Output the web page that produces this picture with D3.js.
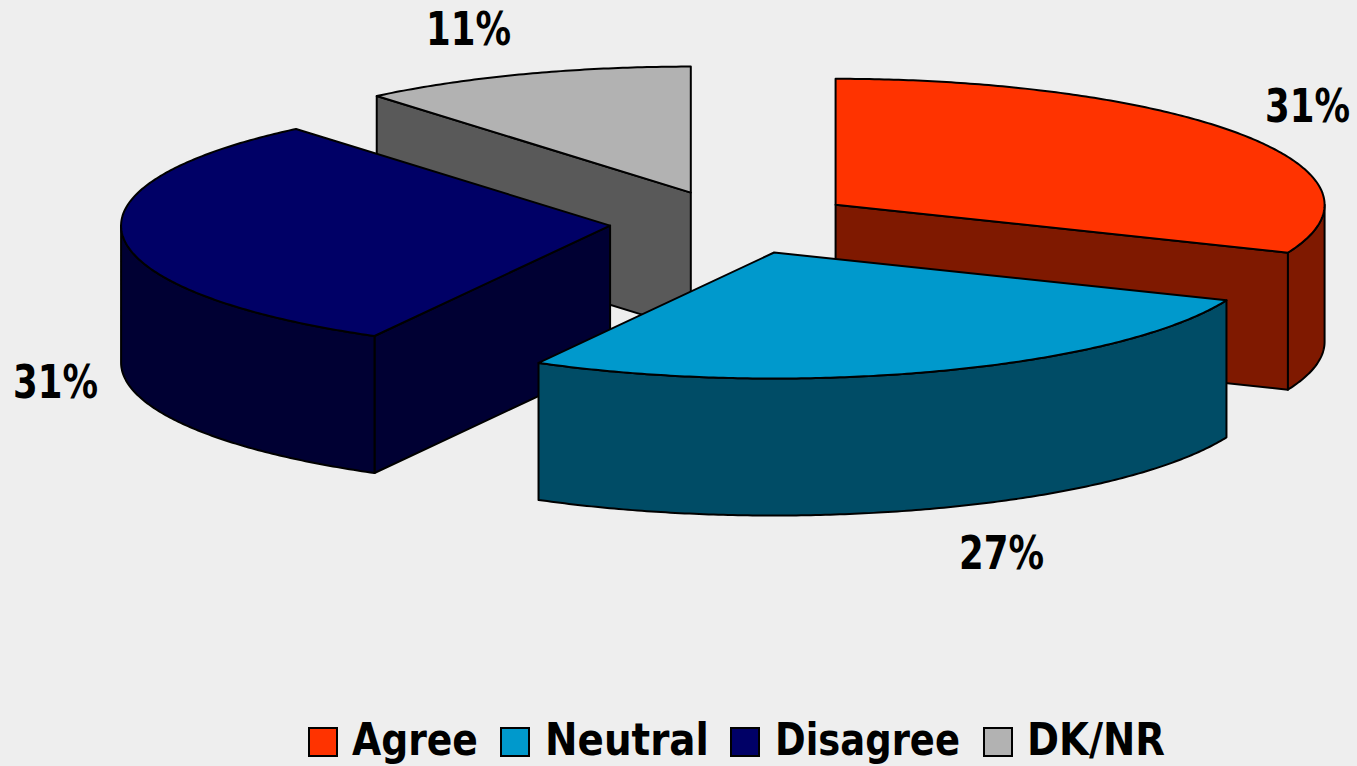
<!DOCTYPE html>
<html><head><meta charset="utf-8"><script src="https://cdn.jsdelivr.net/npm/d3@7"></script>
<style>html,body{margin:0;background:#eeeeee}svg{display:block}text{font-family:"DejaVu Sans",sans-serif;font-weight:700;fill:#000}</style></head>
<body><svg id="c" width="1357" height="766"></svg>
<script>
const categories = ["Agree","Neutral","Disagree","DK/NR"];
const values = [31.2,26.8,30.9,11.1];
const labels = ["31%","27%","31%","11%"];
const topColors = ["#FF3300","#0099CC","#000066","#B2B2B2"];
const sideColors = ["#7F1900","#004C66","#000033","#595959"];
const paintOrder = [3,0,2,1];
const labelPos = [[1265,122],[959,569],[13,398],[426,45]];
const labelWidth = 85;
const legendSwatchX = [309,501,731,984];
const legendTextX = [352,545,775,1027];
const legendTextW = [126,164,185,138];

const cx=733, cy=222.5, rx=489, ry=126, depth=137, explode=123.5;
const k = ry/rx;
const svg = d3.select("#c");
const slices = d3.pie().sort(null).value(d=>d)(values);
const proj = (o,a,r=rx)=>[o[0]+r*Math.sin(a), o[1]-r*k*Math.cos(a)];
const down = p=>[p[0],p[1]+depth];
const line = d3.line();
const arcPts = (o,a0,a1)=>{
  const n=Math.max(2,Math.ceil((a1-a0)/0.01));
  return d3.range(n+1).map(i=>proj(o,a0+(a1-a0)*i/n));
};
const poly = (pts,fill)=>svg.append("path").attr("d",line(pts)+"Z").attr("fill",fill)
  .attr("stroke","#000").attr("stroke-width",2).attr("stroke-linejoin","round");

paintOrder.forEach(i=>{
  const s=slices[i], a0=s.startAngle, a1=s.endAngle, mid=(a0+a1)/2;
  const o=proj([cx,cy],mid,explode);
  const side=sideColors[i];
  [[a0,Math.sin(a0)<-1e-6],[a1,Math.sin(a1)>1e-6]].forEach(([a,vis])=>{
    if(!vis) return;
    const p=proj(o,a);
    poly([o,p,down(p),down(o)],side);
  });
  const w0=Math.max(a0,Math.PI/2), w1=Math.min(a1,Math.PI*1.5);
  if(w1>w0){
    const t=arcPts(o,w0,w1);
    poly(t.concat(t.map(down).reverse()),side);
  }
  poly([o].concat(arcPts(o,a0,a1)),topColors[i]);
});

// text squeezed horizontally to the reference's narrower bold face
const fitText = (t,x,y,size,w)=>{
  const el=svg.append("text").attr("font-size",size).text(t);
  const bb=el.node().getBBox();
  el.attr("transform",`translate(${x},${y}) scale(${w/bb.width},1)`);
};
labels.forEach((t,i)=>fitText(t,labelPos[i][0],labelPos[i][1],47,labelWidth));
categories.forEach((c,i)=>{
  svg.append("rect").attr("x",legendSwatchX[i]).attr("y",728).attr("width",28).attr("height",28)
    .attr("fill",topColors[i]).attr("stroke","#000").attr("stroke-width",2);
  fitText(c,legendTextX[i],755,44,legendTextW[i]);
});
</script></body></html>
